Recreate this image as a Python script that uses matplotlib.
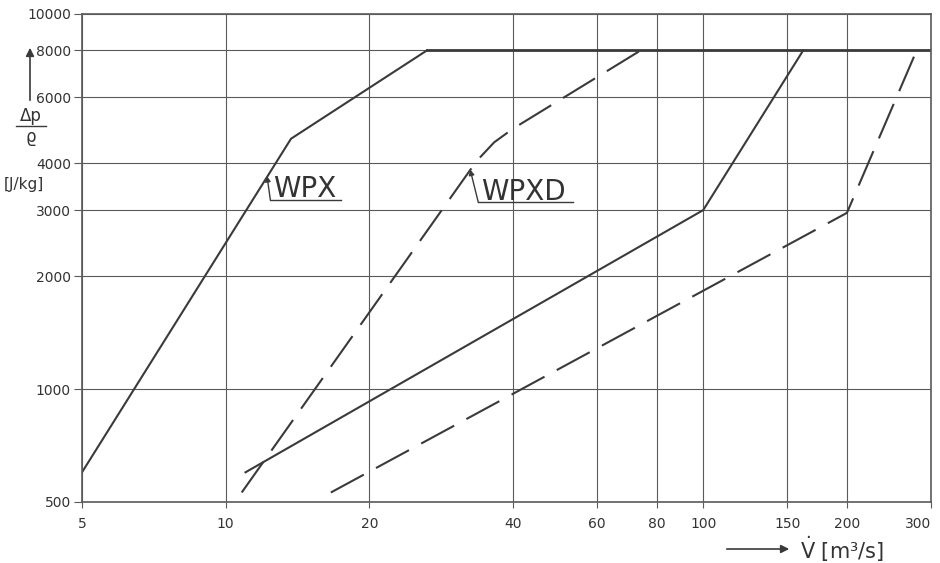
import matplotlib
matplotlib.use("Agg")
import matplotlib.pyplot as plt
from matplotlib.ticker import NullLocator

# values: volume flow V [m3/s] vs dp/rho [J/kg]
X_TICKS = [5, 10, 20, 40, 60, 80, 100, 150, 200, 300]
Y_TICKS = [500, 1000, 2000, 3000, 4000, 6000, 8000, 10000]

# solid = WPX, dashed = WPXD (small and large machine each)
WPX_SMALL_V = [5, 13.7, 26.4]
WPX_SMALL_P = [600, 4650, 8000]
WPX_LARGE_V = [11, 100, 162]
WPX_LARGE_P = [600, 3000, 8000]
WPXD_SMALL_V = [10.8, 33.5, 36.5, 40, 74]
WPXD_SMALL_P = [530, 4050, 4550, 4950, 8000]
WPXD_LARGE_V = [16.6, 200, 280]
WPXD_LARGE_P = [530, 2950, 8000]
# upper limit drawn along the 8000 line
LIMIT_V = [26.4, 300]
LIMIT_P = [8000, 8000]

INK = "#3a3a3a"
GRID = "#5a5a5a"

plt.rcParams.update({"font.family": ["DejaVu Sans"], "font.size": 10,
                     "lines.scale_dashes": False})

fig = plt.figure(figsize=(9.4, 5.63), dpi=100)
ax = fig.add_axes([82 / 940, 61 / 563, 849 / 940, 488 / 563])

ax.set_xscale("log")
ax.set_yscale("log")
ax.set_xlim(X_TICKS[0], X_TICKS[-1])
ax.set_ylim(Y_TICKS[0], Y_TICKS[-1])
ax.set_xticks(X_TICKS, [str(v) for v in X_TICKS])
ax.set_yticks(Y_TICKS, [str(v) for v in Y_TICKS])
ax.xaxis.set_minor_locator(NullLocator())
ax.yaxis.set_minor_locator(NullLocator())
ax.get_xticklabels()[-1].set_ha("right")   # keep "300" inside the figure
ax.grid(True, color=GRID, lw=0.8)
ax.set_axisbelow(True)
for s in ax.spines.values():
    s.set_color(GRID)
    s.set_linewidth(1.2)
ax.tick_params(axis="both", colors=GRID, labelcolor="#333333", labelsize=10)
ax.tick_params(axis="x", length=4, pad=7)
ax.tick_params(axis="y", length=6, pad=2)

dash = (0, (27, 10))
ax.plot(WPX_SMALL_V, WPX_SMALL_P, color=INK, lw=1.5)
ax.plot(WPX_LARGE_V, WPX_LARGE_P, color=INK, lw=1.5)
ax.plot(WPXD_SMALL_V, WPXD_SMALL_P, color=INK, lw=1.5, ls=dash)
ax.plot(WPXD_LARGE_V, WPXD_LARGE_P, color=INK, lw=1.5, ls=dash)
ax.plot(LIMIT_V, LIMIT_P, color=INK, lw=2.0)

# curve labels: arrow from the underlined name to the curve
for name, tip, start, end in [("WPX", (12.2, 3700), (12.4, 3200), (17.4, 3200)),
                              ("WPXD", (32.5, 3850), (33.8, 3150), (53.4, 3150))]:
    ax.annotate("", xy=tip, xytext=start,
                arrowprops=dict(arrowstyle="-|>", color=INK, lw=1.0,
                                mutation_scale=8, shrinkA=0, shrinkB=0))
    ax.plot([start[0], end[0]], [start[1], end[1]], color=INK, lw=1.0)
    ax.text(start[0] * 1.015, start[1] * 1.015, name, fontsize=20,
            color="#333333", ha="left", va="baseline")

# y axis label (arrow, dp/rho fraction, unit)
ax.annotate("", xy=(30, 563 - 45), xytext=(30, 563 - 103), xycoords="figure pixels",
            arrowprops=dict(arrowstyle="-|>", color=INK, lw=1.2, mutation_scale=12))
fig.text(31 / 940, 1 - 116 / 563, "Δp", fontsize=12, ha="center", va="center",
         color="#333333")
fig.add_artist(plt.Line2D([16 / 940, 46 / 940], [1 - 126 / 563, 1 - 126 / 563],
                          color=INK, lw=1.0))
fig.text(31 / 940, 1 - 137 / 563, "ϱ", fontsize=12, ha="center", va="center",
         color="#333333")
fig.text(24 / 940, 1 - 185 / 563, "[J/kg]", fontsize=11, ha="center", va="center",
         color="#333333")

# x axis label
ax.annotate("", xy=(792, 563 - 549), xytext=(724, 563 - 549), xycoords="figure pixels",
            arrowprops=dict(arrowstyle="-|>", color=INK, lw=1.2, mutation_scale=12))
fig.text(800 / 940, 1 - 549 / 563, r"$\dot{\mathrm{V}}$ [m³/s]", fontsize=15,
         ha="left", va="center", color="#333333")

fig.savefig("out.png", dpi=100, facecolor="white")
